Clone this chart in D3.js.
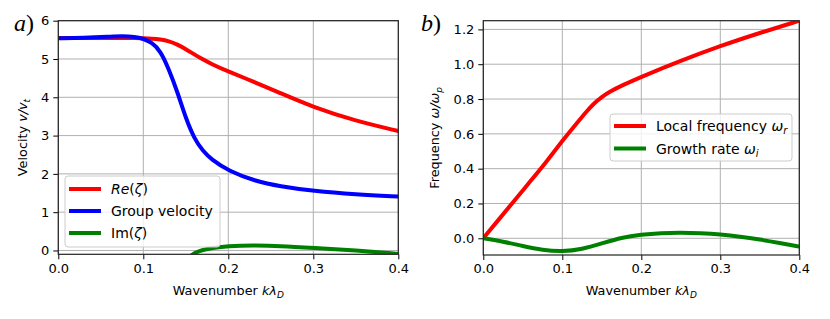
<!DOCTYPE html>
<html><head><meta charset="utf-8">
<script src="https://cdn.jsdelivr.net/npm/d3@7"></script>
<style>
body{margin:0;background:#fff;}
</style></head>
<body><svg id="c" width="830" height="319"></svg>
<script>
// ---- data ----
const xTicks = [0.0, 0.1, 0.2, 0.3, 0.4];
const yTicksA = [0, 1, 2, 3, 4, 5, 6];
const yTicksB = [0.0, 0.2, 0.4, 0.6, 0.8, 1.0, 1.2];

const kA = [0, 0.03, 0.06, 0.075, 0.09, 0.1, 0.11, 0.12, 0.13, 0.14, 0.15, 0.16, 0.17, 0.18, 0.2, 0.233, 0.26, 0.3, 0.35, 0.4];
const reZeta = [5.55, 5.55, 5.55, 5.55, 5.55, 5.54, 5.53, 5.51, 5.47, 5.38, 5.26, 5.12, 4.99, 4.87, 4.67, 4.38, 4.12, 3.74, 3.38, 3.12];
const groupVel = [5.54, 5.55, 5.58, 5.6, 5.58, 5.53, 5.43, 5.22, 4.74, 4.15, 3.45, 2.92, 2.6, 2.38, 2.08, 1.8, 1.68, 1.55, 1.46, 1.41];
const kIm = [0.14, 0.15, 0.157, 0.165, 0.175, 0.19, 0.2, 0.215, 0.23, 0.26, 0.3, 0.35, 0.4];
const imZeta = [-0.7, -0.3, -0.1, -0.02, 0.04, 0.09, 0.11, 0.125, 0.13, 0.12, 0.07, 0.0, -0.09];

const kB = [0, 0.02, 0.04, 0.06, 0.08, 0.1, 0.12, 0.13, 0.14, 0.15, 0.16, 0.175, 0.2, 0.25, 0.3, 0.35, 0.4];
const omegaR = [0, 0.11, 0.22, 0.33, 0.44, 0.56, 0.67, 0.725, 0.775, 0.812, 0.842, 0.877, 0.928, 1.02, 1.105, 1.18, 1.25];
const kG = [0, 0.025, 0.05, 0.075, 0.1, 0.125, 0.15, 0.175, 0.2, 0.225, 0.25, 0.275, 0.3, 0.325, 0.35, 0.375, 0.4];
const omegaI = [0, -0.018, -0.045, -0.068, -0.077, -0.063, -0.03, 0.005, 0.021, 0.03, 0.033, 0.029, 0.022, 0.01, -0.007, -0.027, -0.048];

// ---- drawing ----
const svg = d3.select("#c");
const lw = 4;
const tickFS = 13, labelFS = 12.8, legFS = 14;
const SANS = "'DejaVu Sans', sans-serif";

function panel(id, box, yDom, yTicks, yFmt, series, ylabel, panelLbl, legend) {
  const x = d3.scaleLinear().domain([0, 0.4]).range([box.l, box.r]);
  const y = d3.scaleLinear().domain(yDom).range([box.b, box.t]);
  const g = svg.append("g");
  g.append("clipPath").attr("id", "clip" + id).append("rect")
    .attr("x", box.l).attr("y", box.t).attr("width", box.r - box.l).attr("height", box.b - box.t);
  // grid
  const grid = g.append("g").attr("stroke", "#b0b0b0").attr("stroke-width", 1);
  xTicks.forEach(t => grid.append("line").attr("x1", x(t)).attr("x2", x(t)).attr("y1", box.t).attr("y2", box.b));
  yTicks.forEach(t => grid.append("line").attr("y1", y(t)).attr("y2", y(t)).attr("x1", box.l).attr("x2", box.r));
  // lines
  const lg = g.append("g").attr("clip-path", `url(#clip${id})`);
  series.forEach(s => {
    const line = d3.line().x((d, i) => x(s.k[i])).y(d => y(d)).curve(d3.curveBasis);
    lg.append("path").attr("d", line(s.v)).attr("fill", "none")
      .attr("stroke", s.color).attr("stroke-width", lw).attr("stroke-linecap", "butt");
  });
  // axes
  const ax = d3.axisBottom(x).tickValues(xTicks).tickFormat(d3.format(".1f")).tickSize(5).tickPadding(4);
  const ay = d3.axisLeft(y).tickValues(yTicks).tickFormat(yFmt).tickSize(5).tickPadding(4);
  const gx = g.append("g").attr("transform", `translate(0,${box.b})`).call(ax);
  const gy = g.append("g").attr("transform", `translate(${box.l},0)`).call(ay);
  [gx, gy].forEach(a => {
    a.select(".domain").remove();
    a.selectAll("text").style("font-size", tickFS + "px").style("font-family", SANS).attr("fill", "#000");
    a.selectAll("line").attr("stroke", "#000").attr("stroke-width", 1);
  });
  g.append("rect").attr("x", box.l).attr("y", box.t).attr("width", box.r - box.l).attr("height", box.b - box.t)
    .attr("fill", "none").attr("stroke", "#222").attr("stroke-width", 1.2);
  // x label
  const xl = g.append("text").attr("x", (box.l + box.r) / 2).attr("y", 295).attr("text-anchor", "middle")
    .style("font-size", labelFS + "px").style("font-family", SANS);
  xl.append("tspan").text("Wavenumber ");
  xl.append("tspan").style("font-style", "italic").text("kλ");
  xl.append("tspan").style("font-style", "italic").style("font-size", "9px").attr("dy", 3).text("D");
  // y label
  const yl = g.append("text").attr("transform", `translate(${ylabel.x},${(box.t + box.b) / 2}) rotate(-90)`)
    .attr("text-anchor", "middle").style("font-size", labelFS + "px").style("font-family", SANS);
  yl.append("tspan").text(ylabel.a);
  yl.append("tspan").style("font-style", "italic").text(ylabel.b);
  yl.append("tspan").style("font-style", "italic").style("font-size", "9px").attr("dy", 3).text(ylabel.sub);
  // panel label
  const pl = g.append("text").attr("x", panelLbl.x).attr("y", 30.5)
    .style("font-family", "'Liberation Serif', serif").style("font-size", "24px");
  pl.append("tspan").style("font-style", "italic").text(panelLbl.t);
  pl.append("tspan").text(")");
  // legend
  const L = legend;
  g.append("rect").attr("x", L.x).attr("y", L.y).attr("width", L.w).attr("height", L.h).attr("rx", 3)
    .attr("fill", "#fff").attr("fill-opacity", 0.8).attr("stroke", "#ccc").attr("stroke-width", 1);
  L.items.forEach((it, i) => {
    const yy = L.y + L.first + i * L.step;
    g.append("line").attr("x1", L.x + 4).attr("x2", L.x + 36).attr("y1", yy).attr("y2", yy)
      .attr("stroke", it.color).attr("stroke-width", lw);
    const t = g.append("text").attr("x", L.x + 46).attr("y", yy + 5)
      .style("font-size", legFS + "px").style("font-family", SANS);
    it.parts.forEach(p => {
      const s = t.append("tspan").text(p.t);
      if (p.i) s.style("font-style", "italic");
      if (p.sub) s.style("font-size", "10px").attr("dy", 3);
    });
  });
}

panel("A", {l: 58.3, r: 398.3, t: 20.7, b: 254.3}, [-0.1, 6], yTicksA, d3.format("d"),
  [{k: kA, v: reZeta, color: "#ff0000"}, {k: kA, v: groupVel, color: "#0000ff"}, {k: kIm, v: imZeta, color: "#008000"}],
  {x: 27, a: "Velocity ", b: "v/v", sub: "t"}, {x: 14, t: "a"},
  {x: 65, y: 176, w: 155, h: 71, first: 13, step: 22,
   items: [{color: "#ff0000", parts: [{t: "Re", i: true}, {t: "("}, {t: "ζ", i: true}, {t: ")"}]},
           {color: "#0000ff", parts: [{t: "Group velocity"}]},
           {color: "#008000", parts: [{t: "Im("}, {t: "ζ", i: true}, {t: ")"}]}]});

panel("B", {l: 483.3, r: 799.3, t: 20.7, b: 255}, [-0.096, 1.25], yTicksB, d3.format(".1f"),
  [{k: kB, v: omegaR, color: "#ff0000"}, {k: kG, v: omegaI, color: "#008000"}],
  {x: 439, a: "Frequency ", b: "ω/ω", sub: "p"}, {x: 421, t: "b"},
  {x: 610, y: 114, w: 182, h: 47, first: 12, step: 22.5,
   items: [{color: "#ff0000", parts: [{t: "Local frequency "}, {t: "ω", i: true}, {t: "r", i: true, sub: true}]},
           {color: "#008000", parts: [{t: "Growth rate "}, {t: "ω", i: true}, {t: "i", i: true, sub: true}]}]});
</script></body></html>
